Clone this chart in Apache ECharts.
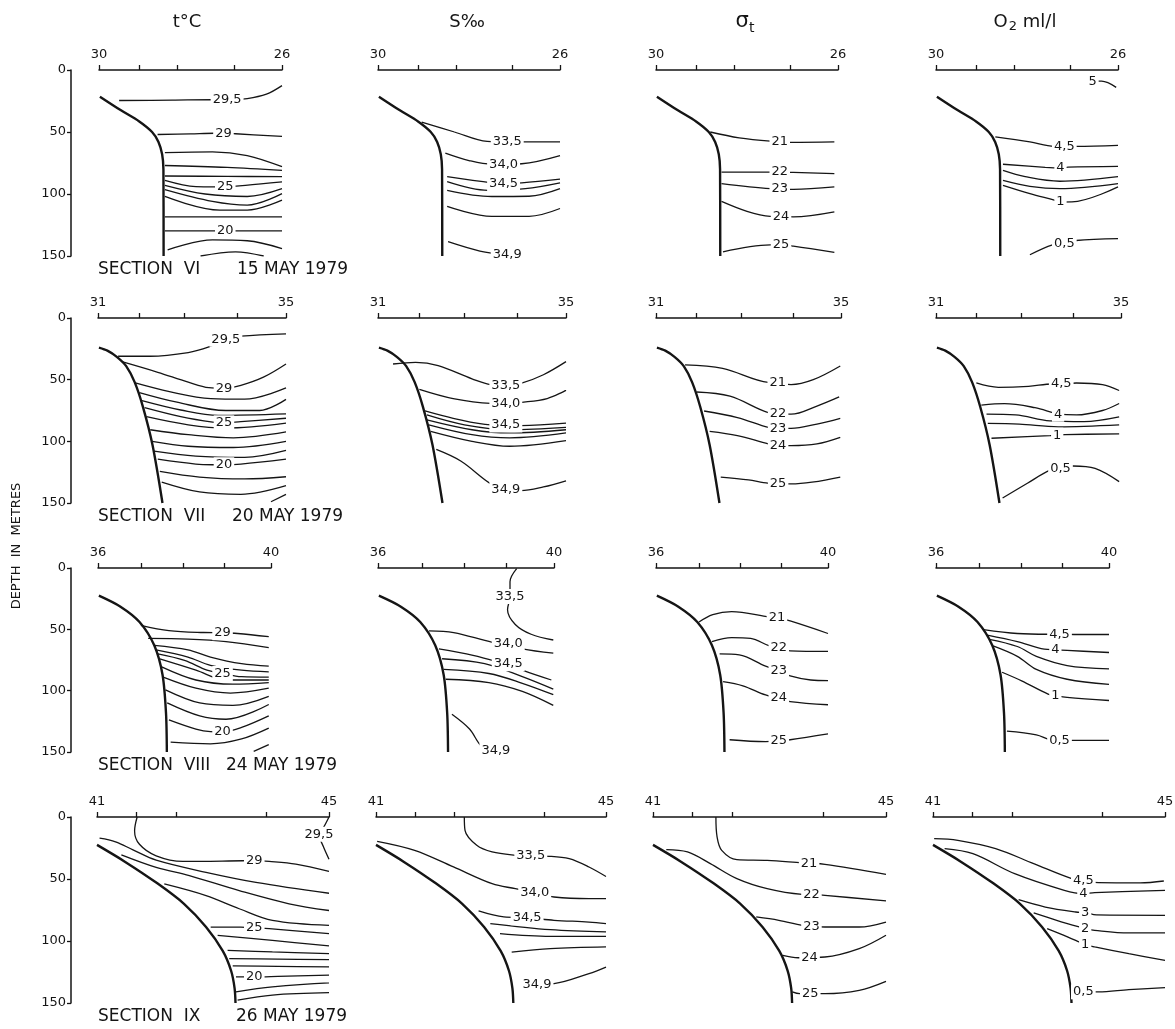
<!DOCTYPE html>
<html lang="en">
<head>
<meta charset="UTF-8">
<title>Sections VI - IX</title>
<script src="https://cdn.jsdelivr.net/npm/echarts@6/dist/echarts.min.js"></script>
<style>
  html, body { margin: 0; background: #fff; }
  #main { width: 1175px; height: 1029px; }
</style>
</head>
<body>
<div id="main"></div>
<script type="text/javascript">
// x runs from first station (0) to last station (100) of a section, y is depth in metres

// station tick positions and end labels
var ticksVI = [0, 22, 43, 74, 100];
var ticksVII = [0, 22, 46, 74, 100];
var ticksVIII = [0, 25, 49, 73, 100];
var ticksIX = [0, 17, 34, 73, 100];
var endsVI = ['30', '26'];
var endsVII = ['31', '35'];
var endsVIII = ['36', '40'];
var endsIX = ['41', '45'];

// bottom profiles
var bottomVI = [[0.5,21.5],[12,32.5],[22,41.5],[29,50],[32.5,58],[34.5,68],[35.2,80],[35.3,150]];
var bottomVII = [[0.5,24],[5,26.5],[10,31.5],[15,39],[19.5,52],[23.9,72],[29,103],[34.3,150]];
var bottomVIII = [[0.5,22.5],[13,31.5],[24,44],[32.5,63],[37.3,87],[39.3,118],[39.8,150]];
var bottomIX = [[0,22.5],[12,36],[26,53.5],[37.5,70],[47,88.7],[54.2,108],[57.8,124],[59.3,138],[59.7,150]];

// ---- Section VI, 15 May 1979
var tVI = [
  [[11,24.6],[40,24.3],[62,24],[70,24],[81,23],[91.5,19.5],[100,12.6]],
  [[32,52],[50,51.5],[63,51],[68,51],[74.6,51.4],[100,53.6]],
  [[36,66.7],[62,66],[81,69],[100,78]],
  [[36,77],[70,78.5],[100,81]],
  [[36,85.5],[70,85.8],[100,86]],
  [[36,89],[53,94],[63,94.2],[69,94],[80,93],[100,90.3]],
  [[36,93],[58,100],[81,102],[100,95.7]],
  [[36,96.5],[62,106],[81,109],[100,99.7]],
  [[36,102],[66,113],[81,113],[100,105]],
  [[36,118.5],[70,118.5],[100,118.5]],
  [[36,129.7],[62,129.7],[69,129.7],[76,129.7],[100,129.7]],
  [[37.5,145],[62,137],[81,137.7],[100,144]],
  [[55.5,150],[74.6,146.6],[90,150]]
];
var tVI_lab = [['29,5',3],['29',3],null,null,null,['25',3],null,null,null,null,['20',2],null,null];

var sVI = [
  [[24,42],[42,50],[60,57.6],[71,58],[81,58],[100,58]],
  [[37,67],[50,73],[62.5,76],[69,76],[79,75.6],[100,69]],
  [[38,86],[62.5,91],[69,91.6],[79,91],[100,88]],
  [[38,90],[60.4,97],[81,95.7],[100,91]],
  [[38,97],[62.5,102],[83,101.8],[100,95.7]],
  [[38,110],[62.5,118],[83,118],[100,111.7]],
  [[38.5,138.5],[56,146],[71,149]]
];
var sVI_lab = [['33,5',3],['34,0',3],['34,5',2],null,null,null,['34,9',2]];

var dVI = [
  [[29.8,50],[45.7,54.7],[62.8,57.3],[68,57.5],[74.5,58.4],[98,58]],
  [[36,82.3],[62.8,82.3],[68,82.3],[75.5,82.6],[98,83.6]],
  [[36,91.6],[62.8,95.7],[68,95.9],[75.5,96.3],[98,94.3]],
  [[36,106],[50,114],[62.8,118],[68.7,118.2],[75.5,118.4],[98,114.4]],
  [[36.8,146.6],[62.8,141],[68.7,141],[75.5,142],[98,147]]
];
var dVI_lab = [['21',3],['22',2],['23',2],['24',3],['25',2]];

var oVI = [
  [[86,9],[91,9],[99,14]],
  [[32.6,54],[51.6,58],[65,61.6],[70.5,61.6],[77,61.6],[100,60.8]],
  [[36.8,76],[60,78.5],[68.4,79],[72.6,78.3],[100,77.7]],
  [[36.8,81],[49,86],[68,89.7],[100,86]],
  [[36.8,89],[51.6,93.8],[68,95.7],[100,91.6]],
  [[36.8,93],[51.6,99.7],[65,105],[68.4,106.5],[74.7,106.4],[100,94.3]],
  [[51.6,149],[64,141],[70.5,140],[77,137.5],[100,136]]
];
var oVI_lab = [['5',0],['4,5',3],['4',2],null,null,['1',3],['0,5',2]];

// ---- Section VII, 20 May 1979
var tVII = [
  [[10.7,31],[27.8,31],[48,28],[59,23.4],[68,17.3],[76,14.7],[100,12.8]],
  [[12.7,35.4],[31.8,44],[48,52],[59,56.5],[67,57],[76,54.6],[88,48],[100,37.3]],
  [[19.8,52.7],[38,59.7],[60,65.3],[78,65.8],[100,56.7]],
  [[22,60.5],[42,68.3],[68,75],[86,75],[100,66]],
  [[23.4,67],[44,74.6],[64,79],[100,77.8]],
  [[24.8,72.7],[44,80],[61,84.5],[67,85],[76,84],[100,81.3]],
  [[25.8,80],[48,86.6],[68,89.2],[100,85.2]],
  [[27.8,90.6],[48,94.6],[72,97.2],[100,92.4]],
  [[28.8,100],[48,104],[72,105],[100,100]],
  [[29.8,108],[52,112],[78,113],[100,107.4]],
  [[31.8,114.5],[52,118.5],[61,119],[67,119],[76,118.5],[100,114.5]],
  [[32.9,124.4],[54,129],[78,130.5],[100,128.7]],
  [[33.9,133],[54,141],[76,143],[100,136]],
  [[92,149],[100,143]]
];
var tVII_lab = [['29,5',4],['29',4],null,null,null,['25',3],null,null,null,null,['20',3],null,null,null];

var sVII = [
  [[8,37.3],[20,36],[32,38.6],[50,49.3],[60,54],[68,54.5],[76,53],[88,46],[100,35.4]],
  [[22,57.8],[40,65.3],[60,69.3],[68,69.5],[76,68.5],[90,65.3],[100,58.6]],
  [[25,75.4],[40,81.3],[60,86.6],[68,86.8],[76,87.2],[100,85.2]],
  [[26,78.6],[46,86.6],[70,90.6],[100,88.7]],
  [[26,82.6],[50,90.6],[70,93.2],[100,90.6]],
  [[27,86.6],[50,94.6],[70,97.2],[100,93.2]],
  [[28,91.9],[50,100],[70,104],[100,99.4]],
  [[31,106.6],[44,116],[60,134.5],[68,139],[76,140],[88,137],[100,132]]
];
var sVII_lab = [['33,5',5],['34,0',3],['34,5',3],null,null,null,null,['34,9',3]];

var dVII = [
  [[15.7,38],[36,40.8],[60.7,52.2],[65.8,52.5],[73,54],[85,50],[99.6,38.9]],
  [[21.9,60],[40,63.4],[60.7,76.7],[66,77.5],[73,78],[87,71.4],[99,64]],
  [[26,75.4],[44,80.7],[60.7,88.7],[66,89.5],[73,89.5],[87,86],[99.6,81.3]],
  [[29,92],[44,95.4],[60.7,102],[66,103.4],[73,103.4],[87,102],[99.6,96.7]],
  [[35,129],[50,131.3],[60.7,134],[66,134.2],[73,134.5],[99.6,129]]
];
var dVII_lab = [['21',3],['22',3],['23',3],['24',3],['25',3]];

var oVII = [
  [[21.8,52.7],[33.7,56.2],[50,55.4],[63,53.5],[67.7,53.5],[75.9,52.7],[90,54],[99,58.8]],
  [[24.5,70.6],[37,69.5],[53.5,72.7],[63,76.7],[66,78],[76,78.6],[90,75],[99,69.3]],
  [[27.3,78],[43,78.6],[61.6,83.4],[80,84],[99,80.2]],
  [[28,85.5],[45,86],[66,88.2],[99,86.6]],
  [[30,97.5],[61.6,95.4],[65.5,95],[69.8,94.5],[99,94]],
  [[36,146],[49.4,134],[61.6,123.4],[67.3,122],[74,120],[86,122],[99,132.7]]
];
var oVII_lab = [['4,5',4],['4',4],null,null,['1',2],['0,5',3]];

// ---- Section VIII, 24 May 1979
var tVIII = [
  [[24.8,46.7],[41,51],[61,52.6],[72,52.8],[80.7,53.4],[98.7,56]],
  [[29,57.4],[52,58],[74,60],[98.7,65]],
  [[32.5,63],[52,66.7],[65,72.6],[83,78],[98.7,80]],
  [[33.5,66.7],[52,72.6],[65,79.3],[83,83.3],[98.7,84.6]],
  [[34.6,70],[50,75.3],[63,83.3],[72,86],[83,88.6],[98.7,89]],
  [[35.7,74],[56.6,83.3],[74,91.3],[98.7,91.3]],
  [[36.8,80.6],[56.6,91.3],[78,94.7],[98.7,93.4]],
  [[37.7,89],[56.6,98],[76.5,102],[98.7,98]],
  [[39,99.3],[58.8,110],[78,112],[98.7,104.6]],
  [[40,110],[58.8,120.6],[74,123.3],[98.7,111.3]],
  [[41,123.8],[56.6,131.3],[65,133.4],[72,133.6],[83,130],[98.7,120.6]],
  [[42,142],[65,143.3],[83,139.3],[98.7,130.5]],
  [[90,149.5],[98.7,144]]
];
var tVIII_lab = [['29',3],null,null,null,['25',3],null,null,null,null,null,['20',3],null,null];

var sVIII = [
  [[78.8,0.5],[75,11.2],[75,23.2],[73.6,34],[78,46],[87,54],[99.6,58.7]],
  [[29,51.2],[43,52.6],[65,60.6],[74,62],[82,66],[99.6,69.4]],
  [[34.6,66],[54,71.2],[65,75.3],[74,78],[82,83.3],[98.5,91.3]],
  [[36.4,74],[60.6,78],[82,88.6],[99.6,98.8]],
  [[37.3,82.7],[63,86],[82,94],[99.6,103.3]],
  [[38.5,90.7],[63,93.4],[82,100.6],[99.6,112]],
  [[42,119.3],[52,131.3],[59.3,146],[67,148.5]]
];
var sVIII_lab = [['33,5',2],['34,0',3],['34,5',3],null,null,null,['34,9',3]];

var dVIII = [
  [[25,44],[33,38],[44,35.5],[66,40],[70.3,40.5],[78,43.2],[100,53.4]],
  [[32.5,60],[44,56.8],[55,57.4],[66,63.5],[71.4,64.6],[78,67.5],[100,68]],
  [[37,70],[48.4,70.8],[63.7,80],[71.4,83.5],[78,88],[90,91.3],[100,91.8]],
  [[39,92.6],[50.5,96],[63.7,103.5],[71.4,106],[78,109],[100,111.5]],
  [[42.8,140],[63.7,141.5],[71.4,141],[78,140],[100,135.3]]
];
var dVIII_lab = [['21',4],['22',4],['23',3],['24',3],['25',2]];

var oVIII = [
  [[27.5,50.2],[47,53.4],[64.8,54],[71.4,54],[80,54.2],[100,54.2]],
  [[29.7,54.7],[47,60],[62.6,66.2],[69,66.7],[75.8,67.2],[100,68.9]],
  [[30.8,58.2],[47,64],[58,72],[75.8,79.5],[100,82.2]],
  [[33,63.5],[47,72],[58,82.7],[75.8,90.7],[100,94.8]],
  [[38.2,85],[49.5,92],[64.8,102.8],[69,104],[75.8,105.4],[100,108]],
  [[41,133],[58,136],[66,140],[71.4,140.6],[80,140.6],[100,140.6]]
];
var oVIII_lab = [['4,5',3],['4',3],null,null,['1',3],['0,5',3]];

// ---- Section IX, 26 May 1979
var tIX = [
  [[100,0],[97.6,8.6],[95.7,13.9],[97.6,24],[100,34]],
  [[17.3,0],[16.2,11.2],[18.3,22],[25.5,31.3],[37,35.8],[62.8,35.3],[67.8,35.2],[74.2,35.8],[85.7,38],[100,43.9]],
  [[1.1,17.1],[8,20],[15.5,26.5],[25.5,34.8],[47,44.6],[68.5,52.7],[100,61.5]],
  [[10.5,30.5],[25.5,40.6],[39.8,47.3],[61.3,59.4],[82.8,70],[100,75.4]],
  [[29,54],[47,63.4],[61.3,74],[75.6,83.4],[100,87.4]],
  [[49,88.8],[62,88.8],[67.8,89.4],[74.2,90],[100,94.1]],
  [[52,95.5],[75.6,99.5],[100,104]],
  [[56.3,107.5],[75.6,108.8],[100,110.2]],
  [[57,114.2],[78,114.6],[100,115]],
  [[58.5,120],[78,120.5],[100,120.9]],
  [[59.9,128.9],[67.8,128.9],[78,128.5],[100,127.5]],
  [[59.9,141],[75.6,137],[100,133.7]],
  [[60.6,147.6],[75.6,143.6],[100,141.7]]
];
var tIX_lab = [['29,5',2],['29',6],null,null,null,['25',2],null,null,null,null,['20',1],null,null];

var sIX = [
  [[38.4,0],[38.7,10.8],[43.8,22.8],[50.5,28.2],[60.6,30.9],[67.3,31.4],[75.8,31.7],[84,33.6],[92.6,40.3],[100,48]],
  [[0.5,19.6],[16.8,26.9],[33.7,40.3],[50.5,53.8],[60.6,57.8],[69,61],[77.4,64.5],[92.6,65.9],[100,65.9]],
  [[44.6,75.8],[55.6,80.6],[65.7,81.2],[77.4,83.3],[92.6,84.7],[100,86]],
  [[49.7,86],[75.8,90.9],[100,92.7]],
  [[53.9,94],[75.8,96.2],[100,96.2]],
  [[59,108.9],[75.8,106.2],[100,104.8]],
  [[70,135],[77.4,134.4],[92.6,126.3],[100,121]]
];
var sIX_lab = [['33,5',5],['34,0',5],['34,5',2],null,null,null,['34,9',0]];

var dIX = [
  [[27,0],[27.5,16],[29.5,26.9],[36,34.4],[49,35],[64,37],[67,37.3],[73.8,38.2],[100,46.2]],
  [[5.7,26.3],[14.8,28.2],[24.6,37.6],[36,49.7],[49,57.8],[64,62.4],[68,62.6],[73.8,63.2],[100,67.7]],
  [[44.3,80.6],[54,83.3],[64,87.4],[68,88.2],[73.8,88.7],[88.5,88.7],[100,84.7]],
  [[55.7,111.5],[62.3,113.5],[67.2,113.2],[73.8,112.9],[88.5,106.2],[100,95.4]],
  [[59.8,141],[63,142.5],[67.5,142.5],[73.8,142.5],[88.5,139.8],[100,132.5]]
];
var dIX_lab = [['21',6],['22',6],['23',3],['24',2],['25',2]];

var oIX = [
  [[0.5,17.5],[10.7,18.8],[27,25.5],[43.4,37.6],[59.8,49.7],[64.8,51],[71.3,53],[89.3,53.2],[99.5,51.6]],
  [[5,25.5],[17.2,29.6],[35.2,45.7],[56.6,59.1],[64.8,61.8],[69.7,61],[100,59.1]],
  [[36.9,66.7],[48.4,72.6],[61.5,76.6],[65.6,77.1],[70.5,79],[100,79.3]],
  [[43.4,77.4],[53.3,83.3],[63,88.7],[65.6,90],[69.7,91.4],[84.4,93.5],[100,93.5]],
  [[49.2,90],[58.2,96.8],[63,100.8],[65.6,103],[69.7,104.8],[84.4,110.2],[100,115.6]],
  [[64.8,141],[71.3,141],[84.4,139.2],[100,137.6]]
];
var oIX_lab = [['4,5',5],['4',4],['3',3],['2',3],['1',3],['0,5',0]];

var sectionNames = ['SECTION  VI', 'SECTION  VII', 'SECTION  VIII', 'SECTION  IX'];
var sectionDates = ['15 MAY 1979', '20 MAY 1979', '24 MAY 1979', '26 MAY 1979'];

// layout (pixels)
var rowTop = [70, 318, 568, 817];
var rowBottom = [256, 503, 752, 1003];
var colSpan = [
  [[99, 282], [378, 560], [656, 838], [936, 1118]],
  [[98, 286], [378, 566], [656, 841], [936, 1121]],
  [[98, 271], [378, 554], [656, 828], [936, 1109]],
  [[97, 329], [376, 606], [653, 886], [933, 1165]]
];
var depthAxisX = 71;
var dateX = [237, 232, 226, 236];

var sections = [
  { ticks: ticksVI, ends: endsVI, bottom: bottomVI, lines: [tVI, sVI, dVI, oVI], labs: [tVI_lab, sVI_lab, dVI_lab, oVI_lab] },
  { ticks: ticksVII, ends: endsVII, bottom: bottomVII, lines: [tVII, sVII, dVII, oVII], labs: [tVII_lab, sVII_lab, dVII_lab, oVII_lab] },
  { ticks: ticksVIII, ends: endsVIII, bottom: bottomVIII, lines: [tVIII, sVIII, dVIII, oVIII], labs: [tVIII_lab, sVIII_lab, dVIII_lab, oVIII_lab] },
  { ticks: ticksIX, ends: endsIX, bottom: bottomIX, lines: [tIX, sIX, dIX, oIX], labs: [tIX_lab, sIX_lab, dIX_lab, oIX_lab] }
];

var ink = '#151515';
var font = 'DejaVu Sans';

var grids = [], xAxes = [], yAxes = [], series = [];

sections.forEach(function (sec, r) {
  sec.lines.forEach(function (panel, c) {
    var i = grids.length;
    var span = colSpan[r][c];
    grids.push({
      left: span[0], top: rowTop[r],
      width: span[1] - span[0], height: rowBottom[r] - rowTop[r],
      outerBoundsMode: 'none'
    });
    xAxes.push({
      gridIndex: i, type: 'value', position: 'top', min: 0, max: 100,
      axisLine: { onZero: false, lineStyle: { color: ink, width: 1.5 } },
      axisTick: { customValues: sec.ticks, length: 5, lineStyle: { color: ink, width: 1.3 } },
      axisLabel: {
        customValues: [0, 100], margin: 9, color: ink, fontSize: 13, fontFamily: font,
        formatter: function (v) { return v === 0 ? sec.ends[0] : sec.ends[1]; }
      },
      splitLine: { show: false }
    });
    yAxes.push({
      gridIndex: i, type: 'value', min: 0, max: 150, interval: 50, inverse: true,
      show: c === 0, offset: span[0] - depthAxisX,
      axisLine: { show: true, onZero: false, lineStyle: { color: ink, width: 1.5 } },
      axisTick: { show: true, length: 4, lineStyle: { color: ink, width: 1.3 } },
      axisLabel: { margin: 5, color: ink, fontSize: 13, fontFamily: font },
      splitLine: { show: false }
    });
    series.push({
      type: 'line', xAxisIndex: i, yAxisIndex: i, data: sec.bottom,
      smooth: 0.3, showSymbol: false, silent: true,
      lineStyle: { color: ink, width: 2.4 }
    });
    var labs = sec.labs[c];
    panel.forEach(function (pts, k) {
      var lab = labs[k];
      series.push({
        type: 'line', xAxisIndex: i, yAxisIndex: i, smooth: 0.35,
        symbol: 'circle', symbolSize: 0, showSymbol: true, silent: true,
        lineStyle: { color: ink, width: 1.3 },
        label: {
          position: 'inside', color: ink, fontSize: 13, fontFamily: font,
          backgroundColor: '#fff', padding: [1, 2]
        },
        data: pts.map(function (p, j) {
          var d = { value: p };
          if (lab && lab[1] === j) d.label = { show: true, formatter: lab[0] };
          return d;
        })
      });
    });
  });
});

var graphics = [
  { type: 'text', x: 187, y: 22, style: { text: 't°C', font: '18px ' + font, fill: ink, textAlign: 'center', textVerticalAlign: 'middle' } },
  { type: 'text', x: 467, y: 22, style: { text: 'S‰', font: '18px ' + font, fill: ink, textAlign: 'center', textVerticalAlign: 'middle' } },
  { type: 'text', x: 745, y: 22, style: {
      text: '{a|σ}{b|t}', textAlign: 'center', textVerticalAlign: 'middle', fill: ink,
      rich: { a: { fontSize: 21, fontFamily: font, fill: ink }, b: { fontSize: 14, fontFamily: font, padding: [12, 0, 0, 0], fill: ink } } } },
  { type: 'text', x: 1025, y: 22, style: {
      text: '{a|O}{b|2}{a| ml/l}', textAlign: 'center', textVerticalAlign: 'middle', fill: ink,
      rich: { a: { fontSize: 18, fontFamily: font, fill: ink }, b: { fontSize: 13, fontFamily: font, padding: [9, 0, 0, 1], fill: ink } } } },
  { type: 'text', x: 17, y: 546, rotation: Math.PI / 2,
    style: { text: 'DEPTH  IN  METRES', font: '13px ' + font, fill: ink, textAlign: 'center', textVerticalAlign: 'middle' } }
];
sectionNames.forEach(function (name, r) {
  var y = rowBottom[r] + 14;
  graphics.push({ type: 'text', x: 98, y: y, style: { text: name, font: '17px ' + font, fill: ink, textVerticalAlign: 'middle' } });
  graphics.push({ type: 'text', x: dateX[r], y: y, style: { text: sectionDates[r], font: '17px ' + font, fill: ink, textVerticalAlign: 'middle' } });
});

var myChart = echarts.init(document.getElementById('main'));
myChart.setOption({
  backgroundColor: '#fff',
  animation: false,
  grid: grids,
  xAxis: xAxes,
  yAxis: yAxes,
  series: series,
  graphic: graphics
});
</script>
</body>
</html>
